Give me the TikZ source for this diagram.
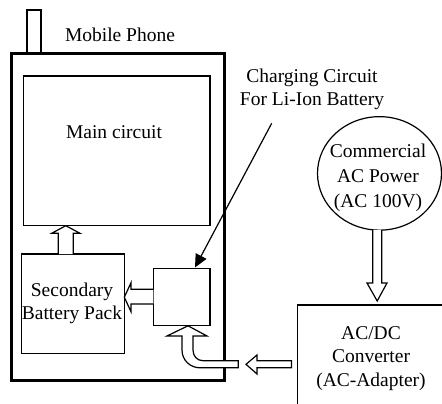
\documentclass[tikz,border=0pt]{standalone}
\usepackage{fontspec}
\setmainfont{Liberation Serif}
\usetikzlibrary{shapes.geometric,arrows.meta}
\tikzset{
  thin line/.style={line width=1.2pt},
  box/.style={draw, thin line, fill=white, inner sep=0pt, outer sep=0pt},
  txt/.style={inner sep=0pt, outer sep=0pt, align=center},
  blockarrow/.style={draw, thin line, fill=white, line join=miter},
}
\newcommand{\lbl}[1]{\fontsize{19.5pt}{#1}\selectfont}
\begin{document}
\begin{tikzpicture}[x=1pt,y=-1pt]
\useasboundingbox (0,0) rectangle (442,404);
\clip (0,0) rectangle (442,404);
% antenna and phone body
\node (ant) [box, minimum width=14pt, minimum height=44pt] at (34,32) {};
\node (phone) [draw, line width=3pt, inner sep=0pt, outer sep=0pt, minimum width=213.5pt, minimum height=326.5pt] at (117.75,217.25) {};
\node (phonelbl) [txt, anchor=base, font=\lbl{24pt}] at (120,42) {Mobile Phone};
% inner blocks
\node (main) [box, minimum width=186.5pt, minimum height=149.5pt] at (116.75,150.75) {};
\node (mainlbl) [txt, anchor=base, font=\lbl{24pt}] at (114,139) {Main circuit};
\node (batt) [box, minimum width=102.6pt, minimum height=99.3pt] at (73,303.7) {};
\node (battlbl) [txt, anchor=base, font=\lbl{23pt}] at (72,319) {Secondary\\Battery Pack};
\node (chg) [box, minimum width=56.7pt, minimum height=56.5pt] at (181.7,297) {};
\node (chglbl) [txt, anchor=base, font=\lbl{23.5pt}] at (312,105.5) {Charging Circuit\\For Li-Ion Battery};
% external parts
\node (ac) [draw, thin line, ellipse, inner sep=0pt, outer sep=0pt, minimum width=124pt, minimum height=113.5pt] at (379.5,173.4) {};
\node (aclbl) [txt, anchor=base, font=\lbl{25pt}] at (378,207) {Commercial\\AC Power\\(AC 100V)};
\node (adp) [box, anchor=north west, minimum width=160pt, minimum height=130pt] at (297.3,305) {};
\node (adplbl) [txt, anchor=base, font=\lbl{23.5pt}] at (371,386) {AC/DC\\Converter\\(AC-Adapter)};
% pointer to charging circuit
\coordinate (ptr) at (271.7,123.3);
\draw[thin line, -{Triangle[length=13pt,width=12pt]}] (ptr) -- (195,267.5);
% battery -> main circuit
\draw[blockarrow] (58.3,254) -- (58.3,233.3) -- (51.7,233.3) -- (65.8,225.7) -- (80,233.3) -- (73.3,233.3) -- (73.3,254);
% charging circuit -> battery
\draw[blockarrow] (153.3,289.3) -- (131,289.3) -- (131,282.7) -- (124.3,297.2) -- (131,311.7) -- (131,304) -- (153.3,304);
% adapter -> phone (curved into charging circuit)
\draw[blockarrow] (188,325.8) -- (207,336) -- (193,336) -- (193,350)
  .. controls (193,356) and (197,360.7) .. (203,360.7) -- (238.3,360.7) -- (238.3,367.8) -- (200,367.8)
  .. controls (190,367.8) and (182,360) .. (182,350) -- (182,336) -- (167,336) -- cycle;
\draw[blockarrow] (291.5,360.7) -- (257,360.7) -- (257,355) -- (246,364.3) -- (257,374) -- (257,367.8) -- (291.5,367.8) -- cycle;
% AC power -> adapter
\draw[blockarrow] (372.7,230) -- (372.7,283) -- (367,283) -- (377.2,301) -- (387,283) -- (381.7,283) -- (381.7,230);
\end{tikzpicture}
\end{document}
